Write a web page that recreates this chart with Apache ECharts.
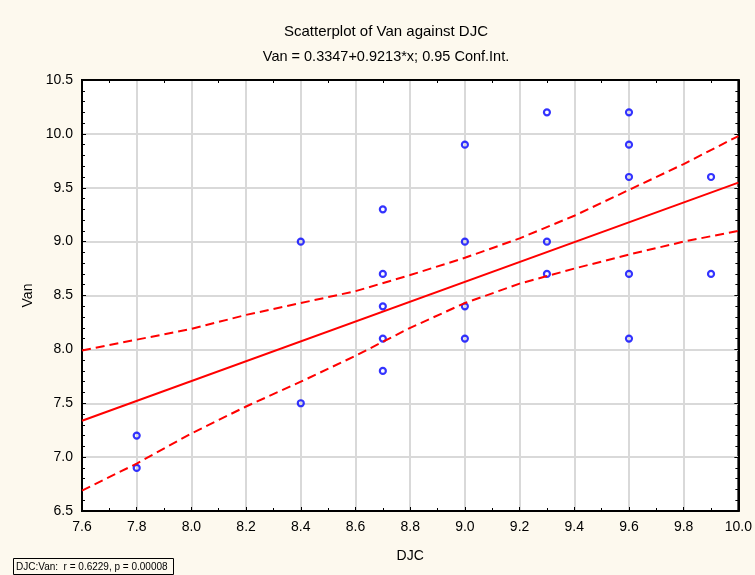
<!DOCTYPE html>
<html><head><meta charset="utf-8">
<script src="https://cdn.jsdelivr.net/npm/echarts@6/dist/echarts.min.js"></script>
<style>html,body{margin:0;padding:0;background:#FDF9EE}#c{width:755px;height:575px}</style>
</head><body><div id="c"></div>
<script>
const titleText = 'Scatterplot of Van against DJC';
const subtitleText = 'Van = 0.3347+0.9213*x; 0.95 Conf.Int.';
const statText = 'DJC:Van:  r = 0.6229, p = 0.00008';
const xName = 'DJC';
const yName = 'Van';
const djc = [7.8,7.8,8.4,8.4,8.7,8.7,8.7,8.7,8.7,9.0,9.0,9.0,9.0,9.3,9.3,9.3,9.6,9.6,9.6,9.6,9.6,9.9,9.9];
const van = [7.2,6.9,9.0,7.5,9.3,8.7,8.4,8.1,7.8,9.9,9.0,8.4,8.1,10.2,9.0,8.7,10.2,9.9,9.6,8.7,8.1,9.6,8.7];
const fitX = [7.6, 10.0];
const fitY = [7.337, 9.548];
const bandX = [7.6,7.8,8.0,8.2,8.4,8.6,8.8,9.0,9.2,9.4,9.6,9.8,10.0];
const bandUpper = [7.99,8.09,8.19,8.32,8.43,8.54,8.69,8.85,9.03,9.24,9.48,9.72,9.98];
const bandLower = [6.69,6.94,7.22,7.47,7.70,7.94,8.20,8.43,8.61,8.75,8.88,9.00,9.10];

const font = "'Liberation Sans', Arial, sans-serif";
const fmt = v => v.toFixed(1);
const chart = echarts.init(document.getElementById('c'));
const pairs = (xs, ys) => xs.map((x, i) => [x, ys[i]]);
const black = '#000';
const tickStyle = {color: black, width: 1};

const option = {
  backgroundColor: '#FDF9EE',
  animation: false,
  textStyle: {fontFamily: font},
  grid: {left: 82, right: 14.5, top: 80, bottom: 64, show: true, backgroundColor: '#fff', borderColor: black, borderWidth: 2},
  xAxis: [{
    type: 'value', min: 7.6, max: 10.0, interval: 0.2, position: 'bottom',
    name: xName, nameLocation: 'middle', nameGap: 38,
    nameTextStyle: {fontSize: 14, color: black, fontFamily: font},
    axisLine: {show: true, onZero: false, lineStyle: {color: black, width: 2}},
    axisTick: {show: true, inside: true, length: 4, lineStyle: tickStyle},
    minorTick: {show: true, splitNumber: 2, length: 3, lineStyle: tickStyle},
    axisLabel: {fontSize: 14, color: black, margin: 9, formatter: fmt, fontFamily: font},
    splitLine: {show: true, lineStyle: {color: '#d9d9d9', width: 2}}
  }, {
    type: 'value', min: 7.6, max: 10.0, interval: 0.2, position: 'top',
    axisLine: {show: true, onZero: false, lineStyle: {color: black, width: 2}},
    axisTick: {show: false, inside: true},
    minorTick: {show: true, splitNumber: 2, length: 3, lineStyle: tickStyle},
    axisLabel: {show: false}, splitLine: {show: false}
  }],
  yAxis: [{
    type: 'value', min: 6.5, max: 10.5, interval: 0.5, position: 'left',
    name: yName, nameLocation: 'middle', nameGap: 46,
    nameTextStyle: {fontSize: 14, color: black, fontFamily: font},
    axisLine: {show: true, onZero: false, lineStyle: {color: black, width: 2}},
    axisTick: {show: true, inside: true, length: 4, lineStyle: tickStyle},
    minorTick: {show: true, splitNumber: 5, length: 3, lineStyle: tickStyle},
    axisLabel: {fontSize: 14, color: black, margin: 9, formatter: fmt, fontFamily: font},
    splitLine: {show: true, lineStyle: {color: '#d9d9d9', width: 2}}
  }, {
    type: 'value', min: 6.5, max: 10.5, interval: 0.5, position: 'right',
    axisLine: {show: true, onZero: false, lineStyle: {color: black, width: 2}},
    axisTick: {show: true, inside: true, length: 4, lineStyle: tickStyle},
    minorTick: {show: true, splitNumber: 5, length: 3, lineStyle: tickStyle},
    axisLabel: {show: false}, splitLine: {show: false}
  }],
  series: [{
    type: 'scatter', data: pairs(djc, van), symbol: 'circle', symbolSize: 6,
    itemStyle: {color: 'rgba(255,255,255,0)', borderColor: '#0000FF', borderWidth: 2.2}, z: 2
  }, {
    type: 'line', data: pairs(bandX, bandUpper), symbol: 'none', silent: true,
    lineStyle: {color: '#FF0000', width: 2, type: [9, 5]}, z: 3
  }, {
    type: 'line', data: pairs(bandX, bandLower), symbol: 'none', silent: true,
    lineStyle: {color: '#FF0000', width: 2, type: [9, 5]}, z: 3
  }, {
    type: 'line', data: pairs(fitX, fitY), symbol: 'none', silent: true,
    lineStyle: {color: '#FF0000', width: 2}, z: 3
  }],
  graphic: [
    {type: 'text', x: 386, y: 32, style: {text: titleText, fontSize: 15, fontFamily: font, fill: black, align: 'center', verticalAlign: 'middle'}},
    {type: 'text', x: 386, y: 57, style: {text: subtitleText, fontSize: 14.5, fontFamily: font, fill: black, align: 'center', verticalAlign: 'middle'}},
    {type: 'rect', shape: {x: 13.5, y: 558.5, width: 160, height: 16}, style: {fill: 'none', stroke: black, lineWidth: 1}},
    {type: 'text', x: 16, y: 567, style: {text: statText, fontSize: 10, fontFamily: font, fill: black, align: 'left', verticalAlign: 'middle'}}
  ]
};
chart.setOption(option);
</script>
</body></html>
